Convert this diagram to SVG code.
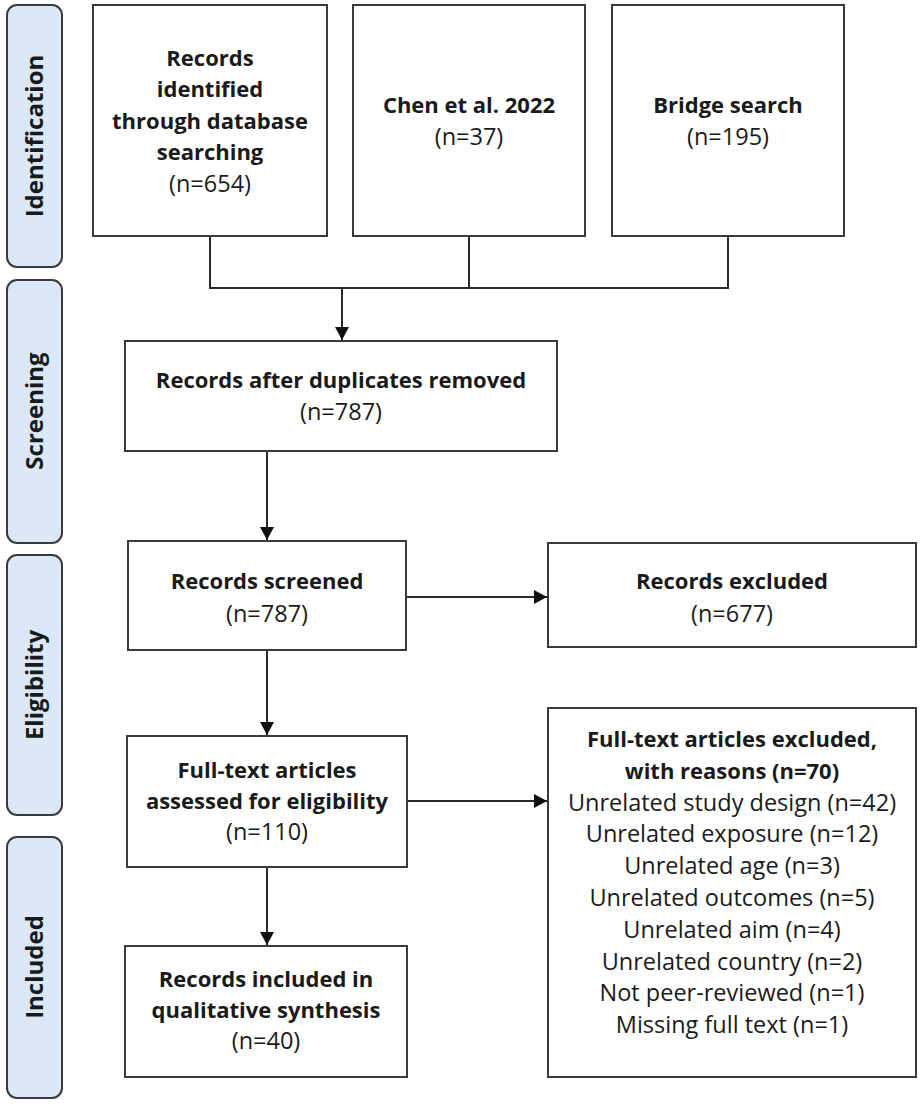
<svg xmlns="http://www.w3.org/2000/svg" width="922" height="1105" viewBox="0 0 922 1105">
<style>
.bg{fill:#ffffff}
.side{fill:#dae8f8;stroke:#3a3a3a;stroke-width:2}
.box{fill:#ffffff;stroke:#3a3a3a;stroke-width:2}
.lbl{font-family:"Open Sans","Liberation Sans",sans-serif;font-size:24px;font-weight:bold;fill:#1a1a1a;text-anchor:middle}
.t{font-family:"Open Sans","Liberation Sans",sans-serif;font-size:23.5px;fill:#1a1a1a;text-anchor:middle}
.b{font-weight:bold;font-size:22px}
.con{fill:none;stroke:#2a2a2a;stroke-width:2}
</style>
<defs>
<marker id="arr" markerUnits="userSpaceOnUse" markerWidth="14" markerHeight="14" viewBox="0 0 14 14" refX="13" refY="7" orient="auto">
<path d="M0,0 L13,7 L0,14 Z" fill="#111111"/>
</marker>
</defs>
<rect class="bg" x="0" y="0" width="922" height="1105"/>

<g id="side-identification">
<rect class="side" x="7" y="5" width="55" height="262" rx="10"/>
<text class="lbl" transform="translate(35,136) rotate(-90)" x="0" y="8">Identification</text>
</g>
<g id="side-screening">
<rect class="side" x="7" y="280" width="55" height="263" rx="10"/>
<text class="lbl" transform="translate(35,411) rotate(-90)" x="0" y="8">Screening</text>
</g>
<g id="side-eligibility">
<rect class="side" x="7" y="555" width="55" height="260" rx="10"/>
<text class="lbl" transform="translate(35,685) rotate(-90)" x="0" y="8">Eligibility</text>
</g>
<g id="side-included">
<rect class="side" x="7" y="837" width="55" height="261" rx="10"/>
<text class="lbl" transform="translate(35,967) rotate(-90)" x="0" y="8">Included</text>
</g>

<g id="connectors">
<path class="con" d="M210,236 V288 H728 V236"/>
<path class="con" d="M469,236 V288"/>
<path class="con" d="M342,288 V340" stroke-width="2.5" marker-end="url(#arr)"/>
<path class="con" d="M267,451 V540" marker-end="url(#arr)"/>
<path class="con" d="M406,597 H547" marker-end="url(#arr)"/>
<path class="con" d="M267,650 V735" marker-end="url(#arr)"/>
<path class="con" d="M407,801 H547" marker-end="url(#arr)"/>
<path class="con" d="M267,867 V945" marker-end="url(#arr)"/>
</g>

<g id="node-database">
<rect class="box" x="93" y="5" width="234" height="231"/>
<text class="t b" x="210" y="66">Records</text>
<text class="t b" x="210" y="97">identified</text>
<text class="t b" x="210" y="129">through database</text>
<text class="t b" x="210" y="160">searching</text>
<text class="t" x="210" y="192">(n=654)</text>
</g>
<g id="node-chen">
<rect class="box" x="353" y="5" width="232" height="231"/>
<text class="t b" x="469" y="113">Chen et al. 2022</text>
<text class="t" x="469" y="145">(n=37)</text>
</g>
<g id="node-bridge">
<rect class="box" x="612" y="5" width="232" height="231"/>
<text class="t b" x="728" y="113">Bridge search</text>
<text class="t" x="728" y="145">(n=195)</text>
</g>
<g id="node-dedup">
<rect class="box" x="125" y="341" width="432" height="110"/>
<text class="t b" x="341" y="388">Records after duplicates removed</text>
<text class="t" x="341" y="420">(n=787)</text>
</g>
<g id="node-screened">
<rect class="box" x="128" y="541" width="278" height="109"/>
<text class="t b" x="267" y="589">Records screened</text>
<text class="t" x="267" y="622">(n=787)</text>
</g>
<g id="node-excluded">
<rect class="box" x="548" y="543" width="368" height="104"/>
<text class="t b" x="732" y="589">Records excluded</text>
<text class="t" x="732" y="622">(n=677)</text>
</g>
<g id="node-fulltext">
<rect class="box" x="127" y="736" width="280" height="131"/>
<text class="t b" x="267" y="778">Full-text articles</text>
<text class="t b" x="267" y="809">assessed for eligibility</text>
<text class="t" x="267" y="840">(n=110)</text>
</g>
<g id="node-ft-excluded">
<rect class="box" x="548" y="708" width="368" height="369"/>
<text class="t b" x="732" y="747">Full-text articles excluded,</text>
<text class="t b" x="732" y="779">with reasons (n=70)</text>
<text class="t" x="732" y="811">Unrelated study design (n=42)</text>
<text class="t" x="732" y="842">Unrelated exposure (n=12)</text>
<text class="t" x="732" y="874">Unrelated age (n=3)</text>
<text class="t" x="732" y="906">Unrelated outcomes (n=5)</text>
<text class="t" x="732" y="938">Unrelated aim (n=4)</text>
<text class="t" x="732" y="970">Unrelated country (n=2)</text>
<text class="t" x="732" y="1001">Not peer-reviewed (n=1)</text>
<text class="t" x="732" y="1033">Missing full text (n=1)</text>
</g>
<g id="node-included">
<rect class="box" x="125" y="946" width="282" height="131"/>
<text class="t b" x="266" y="987">Records included in</text>
<text class="t b" x="266" y="1018">qualitative synthesis</text>
<text class="t" x="266" y="1049">(n=40)</text>
</g>
</svg>
